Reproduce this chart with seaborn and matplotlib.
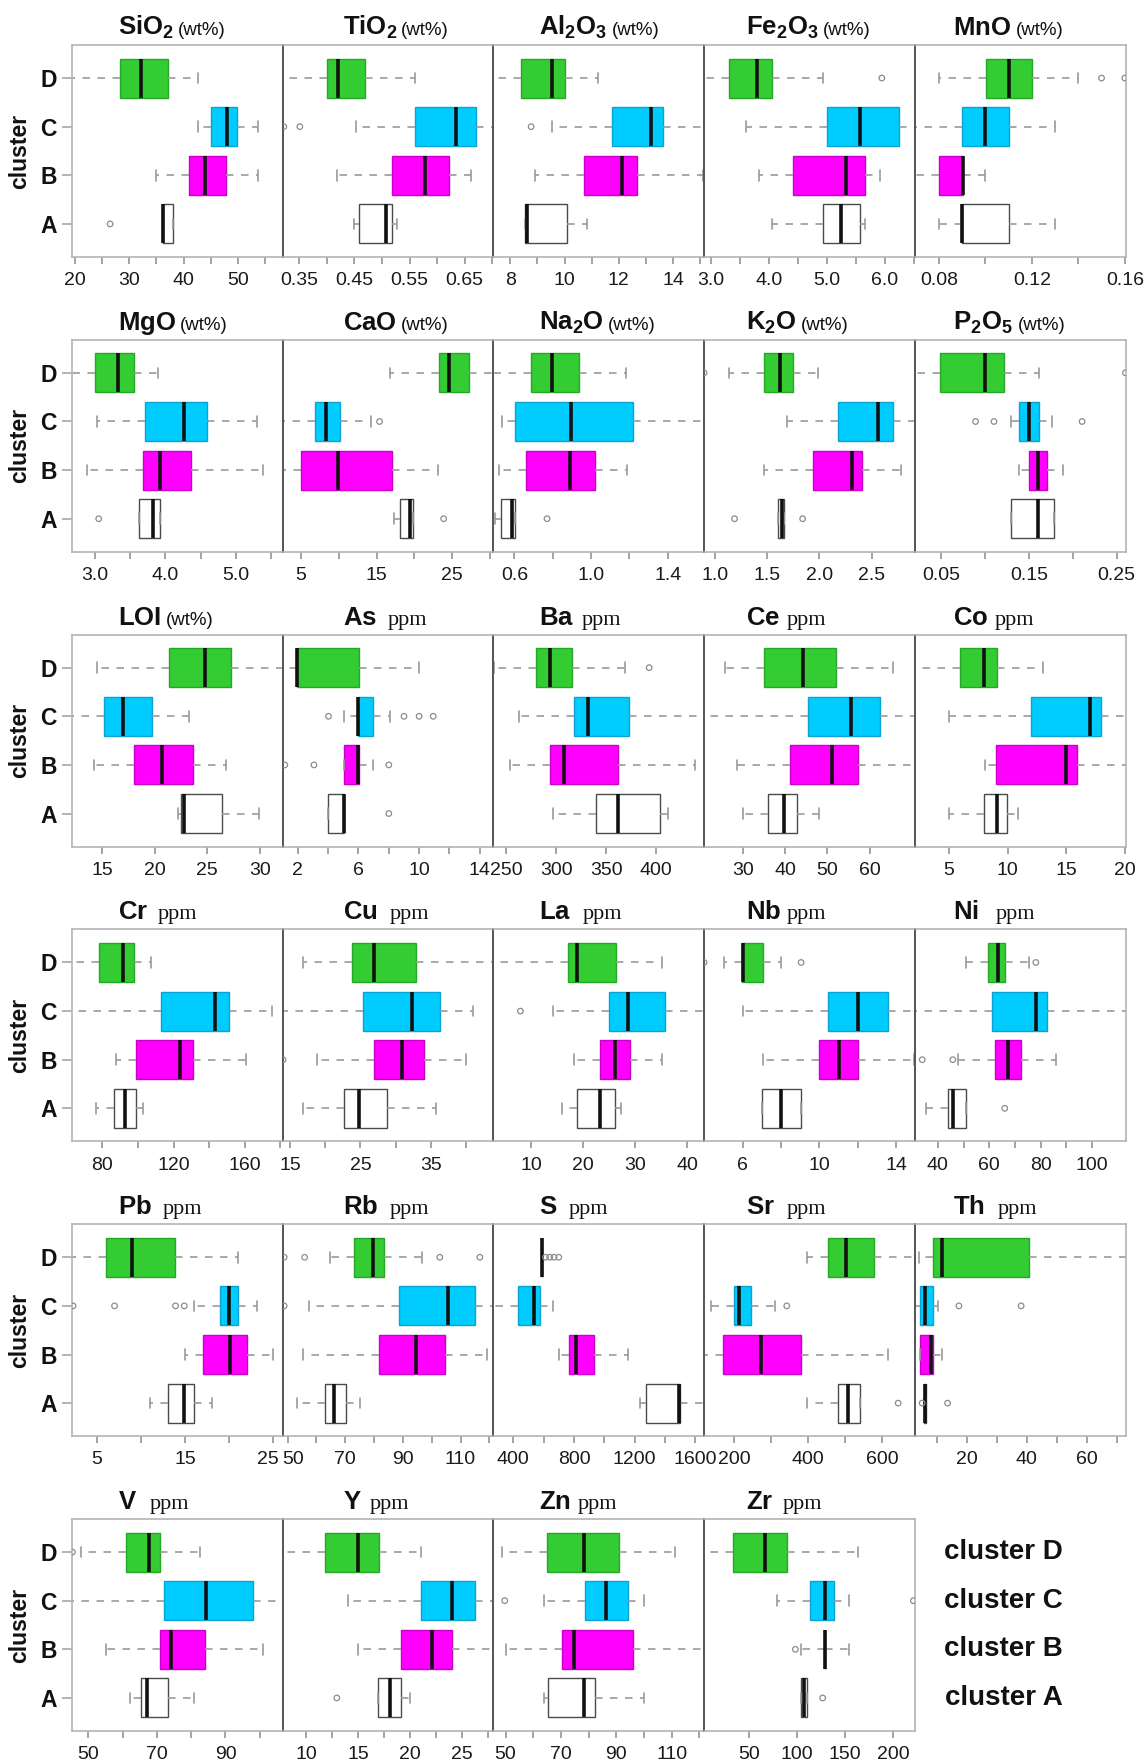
import numpy as np
import pandas as pd
import matplotlib
matplotlib.use("Agg")
import matplotlib.pyplot as plt
from matplotlib.transforms import ScaledTranslation
import seaborn as sns

CLUSTERS = ["D", "C", "B", "A"]

# Box summaries per variable: [whisker low, Q1, median, Q3, whisker high] for clusters D, C, B, A.
# *_OUT: outlying samples per cluster, *_X: (axis range, tick positions, tick labels).
SIO2 = [[15.0, 28.3, 32.1, 37.1, 42.7], [42.7, 45.0, 48.0, 49.8, 53.6],
        [35.0, 41.0, 43.9, 47.8, 53.6], [36.2, 36.2, 36.3, 38.1, 38.1]]
SIO2_OUT = [[], [], [], [26.5]]
SIO2_X = ((19.5, 58.2), [20, 25, 30, 35, 40, 45, 50, 55], ["20", "", "30", "", "40", "", "50", ""])

TIO2 = [[0.30, 0.400, 0.420, 0.470, 0.559], [0.452, 0.559, 0.635, 0.671, 0.72],
        [0.419, 0.518, 0.578, 0.621, 0.661], [0.45, 0.458, 0.508, 0.518, 0.528]]
TIO2_OUT = [[], [0.322, 0.351], [], []]
TIO2_X = ((0.320, 0.702), [0.35, 0.40, 0.45, 0.50, 0.55, 0.60, 0.65, 0.70],
          ["0.35", "", "0.45", "", "0.55", "", "0.65", ""])

AL2O3 = [[7.0, 8.38, 9.54, 10.03, 11.25], [9.55, 11.76, 13.2, 13.64, 15.3],
         [8.9, 10.7, 12.1, 12.68, 15.1], [8.55, 8.55, 8.6, 10.1, 10.82]]
AL2O3_OUT = [[], [8.77], [], []]
AL2O3_X = ((7.38, 15.14), [8, 9, 10, 11, 12, 13, 14, 15], ["8", "", "10", "", "12", "", "14", ""])

FE2O3 = [[2.8, 3.31, 3.79, 4.06, 4.94], [3.60, 5.01, 5.58, 6.25, 6.6],
         [3.82, 4.42, 5.34, 5.66, 5.92], [4.06, 4.94, 5.25, 5.58, 5.66]]
FE2O3_OUT = [[5.95], [], [], []]
FE2O3_X = ((2.88, 6.52), [3.0, 3.5, 4.0, 4.5, 5.0, 5.5, 6.0, 6.5],
           ["3.0", "", "4.0", "", "5.0", "", "6.0", ""])

MNO = [[0.080, 0.1003, 0.110, 0.120, 0.140], [0.065, 0.090, 0.100, 0.110, 0.130],
       [0.068, 0.080, 0.0905, 0.0905, 0.100], [0.080, 0.090, 0.0902, 0.110, 0.130]]
MNO_OUT = [[0.150, 0.160], [], [], []]
MNO_X = ((0.0697, 0.1603), [0.08, 0.10, 0.12, 0.14, 0.16], ["0.08", "", "0.12", "", "0.16"])

MGO = [[2.6, 2.995, 3.32, 3.55, 3.89], [3.03, 3.71, 4.27, 4.59, 5.30],
       [2.89, 3.68, 3.92, 4.36, 5.39], [3.62, 3.62, 3.83, 3.93, 3.93]]
MGO_OUT = [[], [], [], [3.05]]
MGO_X = ((2.67, 5.67), [3.0, 3.5, 4.0, 4.5, 5.0, 5.5], ["3.0", "", "4.0", "", "5.0", ""])

CAO = [[16.8, 23.3, 24.6, 27.3, 31.0], [2.0, 6.9, 8.3, 10.2, 14.3],
       [2.5, 5.05, 9.9, 17.1, 23.1], [17.3, 18.1, 19.4, 19.8, 19.8]]
CAO_OUT = [[], [15.4], [], [23.9]]
CAO_X = ((2.56, 30.5), [5, 10, 15, 20, 25, 30], ["5", "", "15", "", "25", ""])

NA2O = [[0.48, 0.688, 0.796, 0.936, 1.18], [0.535, 0.604, 0.895, 1.22, 1.6],
        [0.52, 0.658, 0.89, 1.02, 1.186], [0.50, 0.529, 0.589, 0.604, 0.604]]
NA2O_OUT = [[], [], [], [0.77]]
NA2O_X = ((0.49, 1.59), [0.6, 0.8, 1.0, 1.2, 1.4], ["0.6", "", "1.0", "", "1.4"])

K2O = [[1.14, 1.468, 1.625, 1.75, 1.99], [1.69, 2.18, 2.56, 2.70, 2.95],
       [1.47, 1.94, 2.31, 2.41, 2.78], [1.607, 1.607, 1.643, 1.664, 1.664]]
K2O_OUT = [[0.90], [], [], [1.19, 1.84]]
K2O_X = ((0.90, 2.91), [1.0, 1.5, 2.0, 2.5], ["1.0", "1.5", "2.0", "2.5"])

P2O5 = [[0.01, 0.049, 0.0995, 0.121, 0.161], [0.129, 0.139, 0.150, 0.161, 0.176],
        [0.139, 0.150, 0.160, 0.171, 0.189], [0.129, 0.129, 0.160, 0.179, 0.179]]
P2O5_OUT = [[0.26], [0.089, 0.110, 0.2105], [], []]
P2O5_X = ((0.0197, 0.26), [0.05, 0.10, 0.15, 0.20, 0.25], ["0.05", "", "0.15", "", "0.25"])

LOI = [[14.5, 21.35, 24.82, 27.28, 32.5], [12.0, 15.18, 17.0, 19.77, 23.28],
       [14.2, 18.0, 20.65, 23.6, 26.8], [22.2, 22.5, 22.75, 26.4, 29.9]]
LOI_OUT = [[], [], [], []]
LOI_X = ((12.1, 32.2), [15, 20, 25, 30], ["15", "20", "25", "30"])

AS = [[0.5, 1.93, 1.95, 6.01, 10.0], [5.05, 5.94, 6.0, 6.95, 8.05],
      [5.03, 5.03, 5.96, 6.03, 6.95], [4.02, 4.02, 5.02, 5.03, 5.03]]
AS_OUT = [[], [4.02, 9.0, 10.0, 10.93], [1.14, 3.06, 8.0], [8.0]]
AS_X = ((1.0, 14.9), [2, 4, 6, 8, 10, 12, 14], ["2", "", "6", "", "10", "", "14"])

BA = [[238, 279.4, 293.4, 316, 369], [263, 317.4, 332, 372.7, 450],
      [253.7, 293.3, 308, 361.4, 438.7], [297, 339.6, 361.4, 404, 412]]
BA_OUT = [[393], [], [], []]
BA_X = ((237, 448), [250, 300, 350, 400], ["250", "300", "350", "400"])

CE = [[25.7, 35.1, 44.25, 52.0, 65.5], [20.0, 45.5, 55.6, 62.5, 71.0],
      [28.6, 41.1, 51.1, 57.2, 71.0], [29.9, 36.0, 39.8, 42.9, 48.0]]
CE_OUT = [[], [], [], []]
CE_X = ((20.8, 70.7), [30, 40, 50, 60], ["30", "40", "50", "60"])

CO = [[2.0, 5.9, 7.96, 9.08, 13.0], [5.0, 12.0, 17.04, 18.0, 20.5],
      [8.06, 9.0, 15.0, 15.9, 20.5], [5.0, 7.96, 9.08, 9.97, 10.9]]
CO_OUT = [[], [], [], []]
CO_X = ((2.07, 20.05), [5, 10, 15, 20], ["5", "10", "15", "20"])

CR = [[62, 77.9, 91.5, 97.8, 107.2], [62, 113, 143.1, 151.3, 175.5],
      [87.9, 98.8, 123.9, 130.8, 160.9], [76.4, 86.5, 92.5, 99.0, 102.6]]
CR_OUT = [[], [], [], []]
CR_X = ((62.9, 181.4), [80, 100, 120, 140, 160, 180], ["80", "", "120", "", "160", ""])

CU = [[16.8, 23.8, 26.9, 32.9, 44.5], [13.5, 25.4, 32.4, 36.3, 41.0],
      [18.8, 26.9, 30.85, 34.0, 40.0], [16.8, 22.7, 24.8, 28.75, 35.8]]
CU_OUT = [[], [], [14.0], []]
CU_X = ((13.95, 43.9), [15, 20, 25, 30, 35, 40], ["15", "", "25", "", "35", ""])

LA = [[2.0, 17.0, 18.9, 26.3, 35.1], [14.2, 25.0, 28.6, 35.85, 44.0],
      [18.2, 23.25, 26.2, 29.0, 35.1], [16.0, 18.9, 23.2, 26.2, 27.2]]
LA_OUT = [[], [7.9], [], []]
LA_X = ((2.7, 43.3), [10, 20, 30, 40], ["10", "20", "30", "40"])

NB = [[5.03, 5.98, 6.0, 7.07, 8.02], [6.0, 10.45, 12.0, 13.55, 15.2],
      [7.07, 10.0, 11.03, 12.0, 14.95], [7.03, 7.03, 8.0, 9.07, 9.07]]
NB_OUT = [[4.0, 9.05], [], [], []]
NB_X = ((4.0, 14.97), [6, 8, 10, 12, 14], ["6", "", "10", "", "14"])

NI = [[50.95, 59.4, 63.4, 66.0, 75.5], [30, 60.9, 78.1, 82.5, 114],
      [48.0, 62.3, 67.4, 72.4, 86.1], [35.3, 43.8, 45.8, 51.0, 51.0]]
NI_OUT = [[78.1], [], [33.9, 45.8], [66.0]]
NI_X = ((31, 113), [40, 50, 60, 70, 80, 90, 100], ["40", "", "60", "", "80", "", "100"])

PB = [[2.0, 6.0, 8.96, 13.9, 21.0], [15.95, 18.9, 19.95, 21.0, 23.1],
      [15.0, 17.0, 20.1, 22.0, 24.9], [11.0, 13.1, 14.9, 16.0, 18.05]]
PB_OUT = [[], [2.3, 7.0, 13.9, 14.9], [], []]
PB_X = ((2.18, 26.05), [5, 10, 15, 20, 25], ["5", "", "15", "", "25"])

RB = [[64.8, 73.1, 79.8, 83.5, 96.6], [57.5, 88.7, 105.8, 115.1, 122],
      [55.2, 81.7, 94.4, 104.7, 119.2], [53.4, 62.9, 66.0, 70.1, 75.2]]
RB_OUT = [[48.8, 55.9, 102.8, 116.7], [48.8], [], []]
RB_X = ((48.3, 121.4), [50, 60, 70, 80, 90, 100, 110, 120],
        ["50", "", "70", "", "90", "", "110", ""])

S = [[587, 587, 587, 587, 587], [250, 428, 539, 575, 661],
     [698, 766, 813, 935, 1155], [1234, 1276, 1494, 1499, 1670]]
S_OUT = [[612, 640, 668, 700], [], [], []]
S_X = ((269, 1657), [400, 600, 800, 1000, 1200, 1400, 1600],
       ["400", "", "800", "", "1200", "", "1600"])

SR = [[397.5, 455, 503, 579, 700], [136.5, 198, 213, 244, 310],
      [110, 170, 271.5, 380, 616], [397.5, 480, 509, 540.6, 540.6]]
SR_OUT = [[], [342], [], [644]]
SR_X = ((118, 689), [200, 300, 400, 500, 600], ["200", "", "400", "", "600"])

TH = [[3.8, 8.5, 11.65, 40.9, 74], [2.0, 4.4, 6.0, 8.8, 10.4],
      [4.4, 4.4, 7.8, 8.8, 11.65], [5.6, 5.6, 6.0, 6.3, 6.3]]
TH_OUT = [[], [17.3, 38.1], [], [5.0, 13.5]]
TH_X = ((2.55, 73), [10, 20, 30, 40, 50, 60, 70], ["", "20", "", "40", "", "60", ""])

V = [[47.7, 60.9, 67.8, 71.0, 82.7], [44, 72.1, 84.3, 97.9, 108],
     [55.0, 71.0, 74.0, 83.9, 101], [62.0, 65.2, 67.0, 73.2, 80.7]]
V_OUT = [[45.3], [], [], []]
V_X = ((45.2, 106.7), [50, 60, 70, 80, 90, 100], ["50", "", "70", "", "90", ""])

Y = [[7.5, 11.8, 15.0, 17.0, 21.05], [14.0, 21.0, 24.05, 26.2, 28.5],
     [15.0, 19.1, 22.07, 24.05, 28.5], [16.9, 16.9, 18.1, 19.1, 20.0]]
Y_OUT = [[], [], [], [12.95]]
Y_X = ((7.75, 28.0), [10, 12.5, 15, 17.5, 20, 22.5, 25, 27.5],
       ["10", "", "15", "", "20", "", "25", ""])

ZN = [[48.8, 65.0, 78.2, 90.9, 111.1], [63.7, 78.8, 86.1, 94.2, 99.9],
      [50.0, 70.4, 74.7, 96.1, 123], [63.7, 65.3, 78.2, 82.3, 99.9]]
ZN_OUT = [[], [49.7], [], []]
ZN_X = ((45.6, 121.7), [50, 60, 70, 80, 90, 100, 110, 120],
        ["50", "", "70", "", "90", "", "110", ""])

ZR = [[0, 33.2, 66.1, 89.0, 163.3], [79.1, 113.6, 128.9, 138.0, 154.1],
      [104, 128.9, 128.9, 128.9, 154.1], [104.4, 104.4, 107.4, 109.7, 109.7]]
ZR_OUT = [[], [221.5], [98], [126.6]]
ZR_X = ((2.5, 223), [50, 100, 150, 200], ["50", "100", "150", "200"])

# (title, unit, summaries, outliers, x axis) in reading order, five panels per row
PANELS = [
    ("SiO_2", "wt", SIO2, SIO2_OUT, SIO2_X), ("TiO_2", "wt", TIO2, TIO2_OUT, TIO2_X),
    ("Al_2O_3", "wt", AL2O3, AL2O3_OUT, AL2O3_X), ("Fe_2O_3", "wt", FE2O3, FE2O3_OUT, FE2O3_X),
    ("MnO", "wt", MNO, MNO_OUT, MNO_X),
    ("MgO", "wt", MGO, MGO_OUT, MGO_X), ("CaO", "wt", CAO, CAO_OUT, CAO_X),
    ("Na_2O", "wt", NA2O, NA2O_OUT, NA2O_X), ("K_2O", "wt", K2O, K2O_OUT, K2O_X),
    ("P_2O_5", "wt", P2O5, P2O5_OUT, P2O5_X),
    ("LOI", "wt", LOI, LOI_OUT, LOI_X), ("As", "ppm", AS, AS_OUT, AS_X),
    ("Ba", "ppm", BA, BA_OUT, BA_X), ("Ce", "ppm", CE, CE_OUT, CE_X), ("Co", "ppm", CO, CO_OUT, CO_X),
    ("Cr", "ppm", CR, CR_OUT, CR_X), ("Cu", "ppm", CU, CU_OUT, CU_X),
    ("La", "ppm", LA, LA_OUT, LA_X), ("Nb", "ppm", NB, NB_OUT, NB_X), ("Ni", "ppm", NI, NI_OUT, NI_X),
    ("Pb", "ppm", PB, PB_OUT, PB_X), ("Rb", "ppm", RB, RB_OUT, RB_X),
    ("S", "ppm", S, S_OUT, S_X), ("Sr", "ppm", SR, SR_OUT, SR_X), ("Th", "ppm", TH, TH_OUT, TH_X),
    ("V", "ppm", V, V_OUT, V_X), ("Y", "ppm", Y, Y_OUT, Y_X),
    ("Zn", "ppm", ZN, ZN_OUT, ZN_X), ("Zr", "ppm", ZR, ZR_OUT, ZR_X),
]

PALETTE = {"D": "#33cc33", "C": "#00ccff", "B": "#ff00ff", "A": "#ffffff"}
EDGES = {"D": "#25a825", "C": "#0aa3d4", "B": "#c800c8", "A": "#4a4a4a"}

# layout in pixels
FIG_W, FIG_H = 1148, 1764
PANEL_W, PANEL_H = 210.7, 212.0
LEFT0, TOP0, ROW_STEP = 72.0, 45.0, 294.8
TITLE_X = [46, 60, 45.5, 42, 38.5]
PPM_GAP = {"As": 11.5, "Ba": 8, "Ce": 6.5, "Co": 6.5, "Cr": 9.5, "Cu": 12, "La": 12,
           "Nb": 5.5, "Ni": 17, "Pb": 10.5, "Rb": 11.5, "S": 12, "Sr": 12, "Th": 13,
           "V": 12.5, "Y": 8.5, "Zn": 7, "Zr": 9.5}
# tick labels that sit at a shared panel border are pushed apart a little (px)
LABEL_NUDGE = {("Pb", "25"): -6, ("Rb", "50"): 6}

sns.set_theme(style="white")
plt.rcParams["font.family"] = ["Liberation Sans", "DejaVu Sans"]
plt.rcParams["mathtext.fontset"] = "custom"
plt.rcParams["mathtext.rm"] = "Liberation Sans"
plt.rcParams["mathtext.bf"] = "Liberation Sans:bold"
plt.rcParams["mathtext.it"] = "Liberation Sans:italic"

fig = plt.figure(figsize=(FIG_W / 100, FIG_H / 100), dpi=100)

for idx, (name, unit, stats, outliers, (xlim, ticks, labels)) in enumerate(PANELS):
    row, col = divmod(idx, 5)
    left = LEFT0 + col * PANEL_W
    top = TOP0 + row * ROW_STEP
    ax = fig.add_axes([left / FIG_W, 1 - (top + PANEL_H) / FIG_H, PANEL_W / FIG_W, PANEL_H / FIG_H])

    df = pd.DataFrame({"cluster": np.repeat(CLUSTERS, 5),
                       "value": np.concatenate([np.asarray(s, float) for s in stats])})
    sns.boxplot(data=df, x="value", y="cluster", hue="cluster", order=CLUSTERS,
                hue_order=CLUSTERS, palette=PALETTE, saturation=1, whis=(0, 100),
                width=0.8, dodge=False, legend=False, ax=ax, linewidth=1.0,
                medianprops=dict(color="#111111", linewidth=2.6, solid_capstyle="butt"),
                whiskerprops=dict(color="#9a9a9a", linewidth=1.2, linestyle=(0, (4.5, 4.5))),
                capprops=dict(color="#9a9a9a", linewidth=1.2))

    # per-cluster box colours and short whisker caps
    for cont in ax.containers:
        if not hasattr(cont, "medians"):
            continue
        for box, med in zip(cont.boxes, cont.medians):
            key = CLUSTERS[int(round(np.mean(med.get_ydata())))]
            box.set_facecolor(PALETTE[key])
            box.set_edgecolor(EDGES[key])
            box.set_linewidth(1.0)
        for cap in cont.caps:
            yc = np.mean(cap.get_ydata())
            cap.set_ydata([yc - 0.11, yc + 0.11])

    for pos, vals in enumerate(outliers):
        if vals:
            ax.scatter(vals, [pos] * len(vals), s=16, facecolors="none",
                       edgecolors="#8c8c8c", linewidths=0.9, zorder=4)

    ax.set_xlim(*xlim)
    ax.set_ylim(3.68, -0.68)
    ax.set_xlabel("")
    ax.set_ylabel("")
    ax.set_xticks(ticks)
    ax.set_xticklabels(labels, fontsize=14, color="#1a1a1a")
    ax.tick_params(axis="x", bottom=True, length=5, width=1.1, color="#8a8a8a", pad=6)
    for tick, lab in zip(ax.xaxis.get_major_ticks(), labels):
        dx = LABEL_NUDGE.get((name, lab))
        if dx:
            tick.label1.set_transform(tick.label1.get_transform()
                                      + ScaledTranslation(dx / 100, 0, fig.dpi_scale_trans))

    for side in ["top", "right", "bottom", "left"]:
        ax.spines[side].set_color("#b4b4b4")
        ax.spines[side].set_linewidth(1.2)
    if col > 0:
        ax.spines["left"].set_color("#555555")
        ax.spines["left"].set_linewidth(1.4)
        ax.set_yticks([])
    else:
        ax.set_yticks(range(len(CLUSTERS)))
        ax.set_yticklabels(CLUSTERS, fontsize=16.5, fontweight="bold", color="#111111")
        ax.tick_params(axis="y", left=True, length=7, width=1.1, color="#a0a0a0", pad=4)
        ax.text(-0.247, 0.5, "cluster", transform=ax.transAxes, rotation=90,
                ha="center", va="center", fontsize=16.5, fontweight="bold", color="#111111")

    # panel heading: bold symbol followed by its unit
    y_t = 1 + 10 / PANEL_H
    head = ax.text(TITLE_X[col] / PANEL_W, y_t, rf"$\mathbf{{{name}}}$", transform=ax.transAxes,
                   ha="left", va="baseline", fontsize=18.5, color="#111111")
    if unit == "wt":
        ax.annotate("(wt%)", xy=(1, y_t), xycoords=(head, ax.transAxes), xytext=(3.0, 0),
                    textcoords="offset points", ha="left", va="baseline", fontsize=13.5,
                    color="#111111")
    else:
        ax.annotate("ppm", xy=(1, y_t), xycoords=(head, ax.transAxes),
                    xytext=(PPM_GAP.get(name, 10) * 0.72, 0), textcoords="offset points",
                    ha="left", va="baseline", fontsize=16, family="Liberation Serif",
                    color="#111111")

    if idx == len(PANELS) - 1:
        for pos, key in enumerate(CLUSTERS):
            ax.text(1.422, pos, f"cluster {key}", transform=ax.get_yaxis_transform(),
                    ha="center", va="center", fontsize=20, fontweight="bold", color="#111111")

fig.savefig("out.png", dpi=100)
